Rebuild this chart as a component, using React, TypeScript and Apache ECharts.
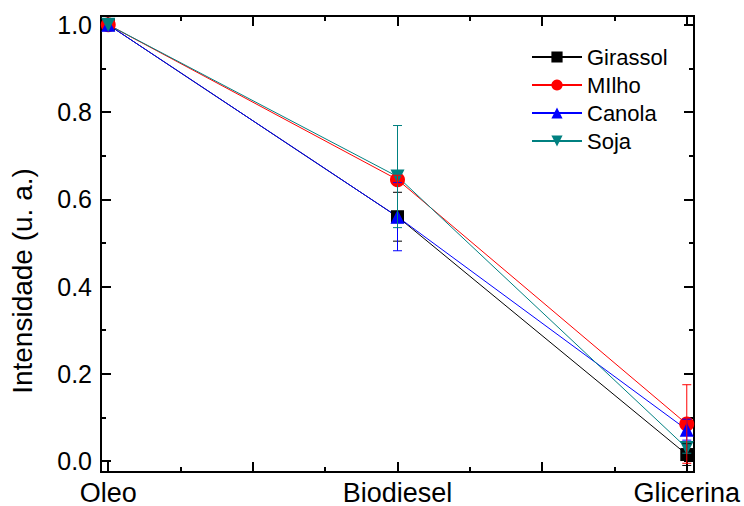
import React, { useEffect, useRef } from "react";
import * as echarts from "echarts";

const categories = ["Oleo", "Biodiesel", "Glicerina"];
const xPositions = [0, 1, 2];
const seriesNames = ["Girassol", "MIlho", "Canola", "Soja"];
const girassol = [1.0, 0.56, 0.015];
const girassolErr = [0, 0.056, 0.025];
const milho = [1.0, 0.645, 0.085];
const milhoErr = [0, 0.01, 0.09];
const canola = [1.0, 0.56, 0.072];
const canolaErr = [0, 0.078, 0.024];
const soja = [1.0, 0.652, 0.03];
const sojaErr = [0, 0.117, 0.012];
const xMajorTicks = [0, 0.5, 1, 1.5, 2];
const xMinorTicks = [0.25, 0.75, 1.25, 1.75];
const yMajorTicks = [0, 0.2, 0.4, 0.6, 0.8, 1.0];
const yMinorTicks = [0.1, 0.3, 0.5, 0.7, 0.9];

const FONT = "'Liberation Sans', Arial, sans-serif";
const X_MIN = -0.025, X_MAX = 2.025, Y_MIN = -0.025, Y_MAX = 1.02;

export default function App() {
  const ref = useRef<HTMLDivElement>(null);
  useEffect(() => {
    if (!ref.current) return;
    const chart = echarts.init(ref.current, undefined, { renderer: "svg" });

    const lineStyle = { color: "#000", width: 2 };
    const mkX = (position: string, ticks: number[], len: number, labels: boolean) => ({
      type: "value",
      position,
      min: X_MIN,
      max: X_MAX,
      axisLine: { show: true, onZero: false, lineStyle },
      axisTick: { show: true, inside: true, length: len, customValues: ticks, lineStyle: { color: "#000", width: 2 } },
      axisLabel: labels
        ? {
            show: true,
            customValues: [0, 1, 2],
            formatter: (v: number) => categories[Math.round(v)] ?? "",
            color: "#000",
            fontSize: 27,
            fontFamily: FONT,
            margin: 7,
          }
        : { show: false },
      splitLine: { show: false },
    });
    const mkY = (position: string, ticks: number[], len: number, labels: boolean) => ({
      type: "value",
      position,
      min: Y_MIN,
      max: Y_MAX,
      axisLine: { show: true, onZero: false, lineStyle },
      axisTick: { show: true, inside: true, length: len, customValues: ticks, lineStyle: { color: "#000", width: 2 } },
      axisLabel: labels
        ? {
            show: true,
            customValues: yMajorTicks,
            formatter: (v: number) => v.toFixed(1),
            color: "#000",
            fontSize: 25,
            fontFamily: FONT,
            margin: 9,
          }
        : { show: false },
      splitLine: { show: false },
    });

    const defs = [
      { name: seriesNames[0], data: girassol, err: girassolErr, color: "#000000", symbol: "rect", size: 13, rotate: 0 },
      { name: seriesNames[1], data: milho, err: milhoErr, color: "#ff0000", symbol: "circle", size: 15, rotate: 0 },
      { name: seriesNames[2], data: canola, err: canolaErr, color: "#0000ff", symbol: "triangle", size: 14, rotate: 0 },
      { name: seriesNames[3], data: soja, err: sojaErr, color: "#008080", symbol: "triangle", size: 14, rotate: 180 },
    ];

    const lineSeries = defs.map((d) => ({
      name: d.name,
      type: "line",
      xAxisIndex: 0,
      yAxisIndex: 0,
      data: xPositions.map((x, i) => [x, d.data[i]]),
      symbol: d.symbol,
      symbolSize: d.size,
      symbolRotate: d.rotate,
      itemStyle: { color: d.color },
      lineStyle: { color: d.color, width: 1 },
      z: 2,
    }));

    const errOrder = [0, 2, 3, 1];
    const errSeries = errOrder.map((k, idx) => {
      const d = defs[k];
      return {
        type: "custom",
        name: d.name + "-err",
        xAxisIndex: 0,
        yAxisIndex: 0,
        z: 5 + idx,
        data: xPositions.map((x, i) => [x, d.data[i], d.err[i]]),
        renderItem: (params: any, api: any) => {
          const x = api.value(0);
          const y = api.value(1);
          const e = api.value(2);
          if (!e) return { type: "group", children: [] };
          const top = api.coord([x, y + e]);
          const bot = api.coord([x, y - e]);
          const w = 4.5;
          const style = { stroke: d.color, lineWidth: 1, fill: "none" };
          return {
            type: "group",
            children: [
              { type: "line", shape: { x1: top[0], y1: top[1], x2: bot[0], y2: bot[1] }, style },
              { type: "line", shape: { x1: top[0] - w, y1: top[1], x2: top[0] + w, y2: top[1] }, style },
              { type: "line", shape: { x1: bot[0] - w, y1: bot[1], x2: bot[0] + w, y2: bot[1] }, style },
            ],
          };
        },
        silent: true,
      };
    });

    chart.setOption({
      animation: false,
      backgroundColor: "#ffffff",
      grid: { left: 101, right: 50, top: 16, bottom: 34, containLabel: false },
      xAxis: [
        mkX("bottom", xMajorTicks, 10, true),
        mkX("bottom", xMinorTicks, 5, false),
        mkX("top", xMajorTicks, 10, false),
        mkX("top", xMinorTicks, 5, false),
      ],
      yAxis: [
        mkY("left", yMajorTicks, 10, true),
        mkY("left", yMinorTicks, 5, false),
        mkY("right", yMajorTicks, 10, false),
        mkY("right", yMinorTicks, 5, false),
      ],
      legend: {
        data: seriesNames,
        orient: "vertical",
        left: 531,
        top: 46,
        padding: 0,
        itemWidth: 50,
        itemHeight: 14,
        itemGap: 6,
        textStyle: { color: "#000", fontSize: 22, fontFamily: FONT, lineHeight: 22 },
      },
      graphic: [
        {
          type: "text",
          x: 22,
          y: 281,
          rotation: Math.PI / 2,
          style: {
            text: "Intensidade (u. a.)",
            fontSize: 28,
            fontFamily: FONT,
            fill: "#000",
            align: "center",
            verticalAlign: "middle",
          },
        },
      ],
      series: [...lineSeries, ...errSeries],
    });

    return () => chart.dispose();
  }, []);

  return <div ref={ref} style={{ width: 744, height: 506, position: "fixed", left: 0, top: 0 }} />;
}
